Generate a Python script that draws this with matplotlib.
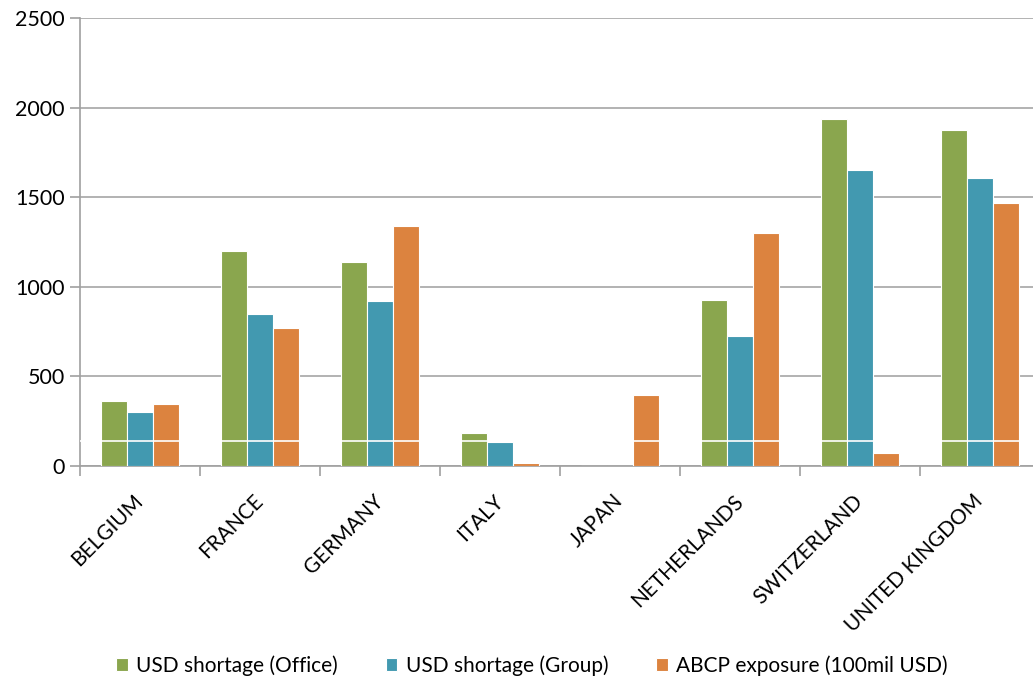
import matplotlib
matplotlib.use("Agg")
import matplotlib.pyplot as plt
import numpy as np

plt.rcParams.update({
    "font.family": ["Lato", "DejaVu Sans"],
    "font.size": 14,
})

countries = ["BELGIUM", "FRANCE", "GERMANY", "ITALY", "JAPAN",
             "NETHERLANDS", "SWITZERLAND", "UNITED KINGDOM"]
usd_office = [360, 1200, 1138, 184, 0, 925, 1936, 1875]
usd_group = [300, 848, 921, 136, 0, 724, 1650, 1609]
abcp = [344, 770, 1339, 15, 396, 1298, 74, 1468]

series = [
    ("USD shortage (Office)", usd_office, "#8AA64E"),
    ("USD shortage (Group)", usd_group, "#4299B0"),
    ("ABCP exposure (100mil USD)", abcp, "#DC833F"),
]

fig = plt.figure(figsize=(10.33, 6.81), dpi=100)
# plot area runs a little past the right edge, as in the original
ax = fig.add_axes([80 / 1033, 1 - 466 / 681, 960 / 1033, 448 / 681])

x = np.arange(len(countries))
w = 0.217
for i, (name, vals, col) in enumerate(series):
    ax.bar(x + (i - 1) * w, vals, w, color=col, edgecolor="white",
           linewidth=0.8, label=name, zorder=3)

# odd white line across the bars near the bottom
ax.axhline(140, color="white", linewidth=1.2, zorder=4)

ax.set_ylim(0, 2500)
ax.set_xlim(-0.5, 7.5)
ax.set_yticks(range(0, 2501, 500))
ax.yaxis.grid(True, color="#a6a6a6", linewidth=1.2, zorder=0)
ax.set_axisbelow(True)

for s in ["top", "right"]:
    ax.spines[s].set_visible(False)
for s in ["left", "bottom"]:
    ax.spines[s].set_color("#a0a0a0")
    ax.spines[s].set_linewidth(1.2)

ax.tick_params(axis="y", length=7, color="#a0a0a0", width=1.2, pad=4,
               labelsize=15.5)
ax.set_xticks(x)
ax.set_xticklabels(countries, rotation=45, ha="right", va="center",
                   rotation_mode="anchor", fontsize=15)
ax.tick_params(axis="x", which="major", length=0, pad=23)
ax.set_xticks(np.arange(-0.5, 8, 1), minor=True)
ax.tick_params(axis="x", which="minor", length=7, color="#a0a0a0", width=1.2)

fig.legend(loc="lower center", bbox_to_anchor=(0.515, -0.02), ncol=3,
           frameon=False, fontsize=15, handlelength=0.55, handleheight=0.55,
           handletextpad=0.4, columnspacing=2.3)

fig.savefig("out.png", dpi=100)
